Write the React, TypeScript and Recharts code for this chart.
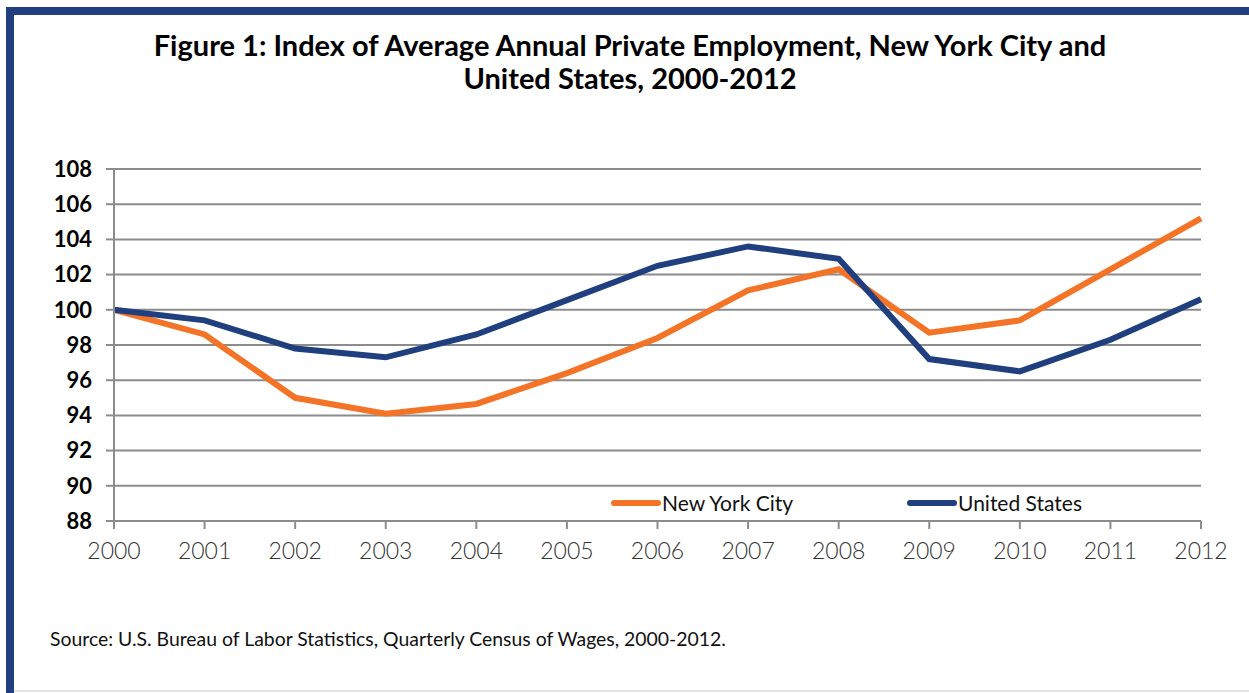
import { LineChart, Line, XAxis, YAxis, CartesianGrid, Legend } from "recharts";

const years = ["2000", "2001", "2002", "2003", "2004", "2005", "2006", "2007", "2008", "2009", "2010", "2011", "2012"];
const nycIndex = [100, 98.6, 95.0, 94.1, 94.65, 96.4, 98.4, 101.1, 102.3, 98.7, 99.4, 102.3, 105.2];
const usIndex = [100, 99.4, 97.8, 97.3, 98.6, 100.55, 102.5, 103.6, 102.9, 97.2, 96.5, 98.3, 100.6];
const yTicks = [88, 90, 92, 94, 96, 98, 100, 102, 104, 106, 108];

const data = years.map((year, i) => ({ year, nyc: nycIndex[i], us: usIndex[i] }));

const ORANGE = "#f47427";
const NAVY = "#1f3f7e";
const GRID = "#8c8c8c";

function LegendBox() {
  const item = (color: string, label: string, width: number) => (
    <div style={{ display: "flex", alignItems: "center", width }}>
      <svg width={50} height={8} style={{ display: "block" }}>
        <line x1={3} y1={4} x2={47} y2={4} stroke={color} strokeWidth={6} strokeLinecap="round" />
      </svg>
      <span style={{ fontFamily: "Lato, sans-serif", fontSize: 21, color: "#111", marginLeft: 1 }}>{label}</span>
    </div>
  );
  return (
    <div style={{ display: "flex" }}>
      {item(ORANGE, "New York City", 296)}
      {item(NAVY, "United States", 220)}
    </div>
  );
}

export default function App() {
  return (
    <div style={{ position: "absolute", left: 0, top: 0, width: 1249, height: 693, background: "#fff", overflow: "hidden" }}>
      <div style={{ position: "absolute", left: 6, top: 7, width: 1243, height: 8, background: "#213f80" }} />
      <div style={{ position: "absolute", left: 6, top: 7, width: 8, height: 686, background: "#213f80" }} />
      <div style={{ position: "absolute", left: 14, top: 690, width: 1235, height: 2, background: "#e2e2ea" }} />
      <div
        style={{
          position: "absolute",
          left: 0,
          top: 28,
          width: 1260,
          textAlign: "center",
          fontFamily: "Lato, sans-serif",
          fontWeight: 700,
          fontSize: 29,
          lineHeight: "33px",
          color: "#000",
        }}
      >
        <div>Figure 1: Index of Average Annual Private Employment, New York City and</div>
        <div>United States, 2000-2012</div>
      </div>
      <div style={{ position: "absolute", left: 0, top: 0 }}>
        <LineChart width={1249} height={693} data={data} margin={{ top: 169, right: 48, left: 49, bottom: 122 }}>
          <CartesianGrid horizontal vertical={false} stroke={GRID} strokeWidth={2} />
          <XAxis
            dataKey="year"
            height={50}
            interval={0}
            axisLine={{ stroke: GRID, strokeWidth: 2 }}
            tickLine={{ stroke: GRID, strokeWidth: 2 }}
            tickSize={8}
            tickMargin={14}
            tick={{ fontFamily: "Lato, sans-serif", fontWeight: 300, fontSize: 23, fill: "#333" }}
          />
          <YAxis
            width={65}
            domain={[88, 108]}
            ticks={yTicks}
            interval={0}
            axisLine={{ stroke: GRID, strokeWidth: 2 }}
            tickLine={{ stroke: GRID, strokeWidth: 2 }}
            tickSize={8}
            tickMargin={14}
            tick={{ fontFamily: "Lato, sans-serif", fontWeight: 700, fontSize: 22, fill: "#000" }}
          />
          <Legend
            layout="horizontal"
            verticalAlign="middle"
            align="center"
            wrapperStyle={{ top: 490, left: 611, width: 540 }}
            content={() => <LegendBox />}
          />
          <Line dataKey="nyc" name="New York City" stroke={ORANGE} strokeWidth={6} dot={false} isAnimationActive={false} />
          <Line dataKey="us" name="United States" stroke={NAVY} strokeWidth={6} dot={false} isAnimationActive={false} />
        </LineChart>
      </div>
      <div
        style={{
          position: "absolute",
          left: 50,
          top: 627,
          fontFamily: "Lato, sans-serif",
          fontSize: 19.4,
          color: "#111",
          whiteSpace: "nowrap",
        }}
      >
        Source: U.S. Bureau of Labor Statistics, Quarterly Census of Wages, 2000-2012.
      </div>
    </div>
  );
}
